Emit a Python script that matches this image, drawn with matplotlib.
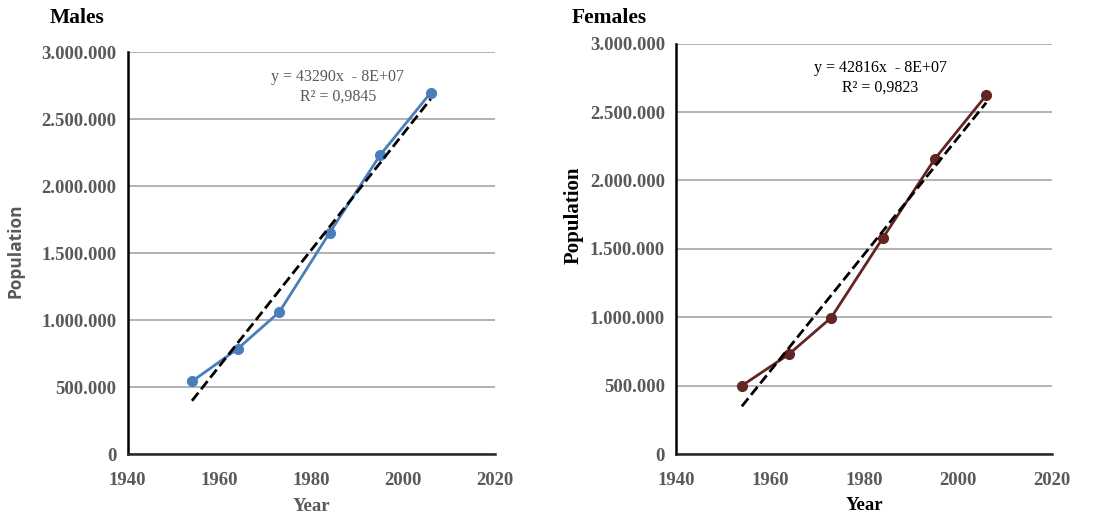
import matplotlib
matplotlib.use("Agg")
import matplotlib.pyplot as plt
from matplotlib.ticker import FuncFormatter
import numpy as np

years = [1954, 1964, 1973, 1984, 1995, 2006]
males = [544000, 789000, 1061000, 1655000, 2234000, 2699000]
females = [499000, 729000, 996000, 1579000, 2154000, 2622000]
male_eq = "y = 43290x  - 8E+07\nR² = 0,9845"
female_eq = "y = 42816x  - 8E+07\nR² = 0,9823"

plt.rcParams['font.family'] = ['Liberation Serif', 'DejaVu Serif']

GRAY = '#595959'


def dotted(v, pos):
    return f"{int(round(v)):,}".replace(",", ".")


def draw(ax, y, color, title, eq, eq_pos, txtcolor, ylab):
    ax.plot(years, y, '-o', color=color, lw=2, ms=7, zorder=3)
    k, b = np.polyfit(years, y, 1)
    xs = np.array([years[0], years[-1]])
    ax.plot(xs, k * xs + b, '--', color='black', lw=2, zorder=4)
    ax.set_xlim(1940, 2020)
    ax.set_ylim(0, 3000000)
    ax.set_xticks([1940, 1960, 1980, 2000, 2020])
    ax.set_yticks(np.arange(0, 3000001, 500000))
    ax.yaxis.set_major_formatter(FuncFormatter(dotted))
    ax.grid(axis='y', color='#a6a6a6', lw=1.2)
    ax.set_axisbelow(True)
    for s in ['top', 'right']:
        ax.spines[s].set_visible(False)
    ax.spines['left'].set_linewidth(1.8)
    ax.spines['bottom'].set_linewidth(1.8)
    ax.spines['bottom'].set_color('#262626')
    ax.tick_params(axis='y', length=0, labelsize=13.5, labelcolor=GRAY, pad=8)
    ax.tick_params(axis='x', length=0, labelsize=13.5, labelcolor=GRAY, pad=13)
    for lab in ax.get_xticklabels() + ax.get_yticklabels():
        lab.set_fontweight('bold')
    ax.set_xlabel('Year', fontsize=13.5, fontweight='bold', color=txtcolor, labelpad=6)
    ax.set_ylabel('Population', **ylab[2])
    ax.yaxis.set_label_coords(ylab[0], ylab[1])
    ax.text(eq_pos[0], eq_pos[1], eq, ha='center', va='center', fontsize=11.5,
            color=txtcolor, linespacing=1.3)
    ax.text(title[1], title[2], title[0], transform=ax.figure.transFigure,
            fontsize=15.5, fontweight='bold', ha='left', va='center')


fig = plt.figure(figsize=(11.01, 5.13), dpi=100)
ax1 = fig.add_axes([0.116, 0.1144, 0.3336, 0.7836])
ax2 = fig.add_axes([0.614, 0.115, 0.3415, 0.8])

male_ylab = dict(fontsize=12.5, fontweight='bold', color=GRAY,
                 family=['Open Sans', 'DejaVu Sans'])
female_ylab = dict(fontsize=15, fontweight='bold', color='black')

draw(ax1, males, '#4a7ebb', ('Males', 50 / 1101, 1 - 18 / 513), male_eq,
     (1985.8, 2740000), GRAY, (-0.281, 0.506, male_ylab))
draw(ax2, females, '#632523', ('Females', 572 / 1101, 1 - 18 / 513), female_eq,
     (1983.5, 2750000), 'black', (-0.247, 0.582, female_ylab))

fig.savefig('out.png', dpi=100)
